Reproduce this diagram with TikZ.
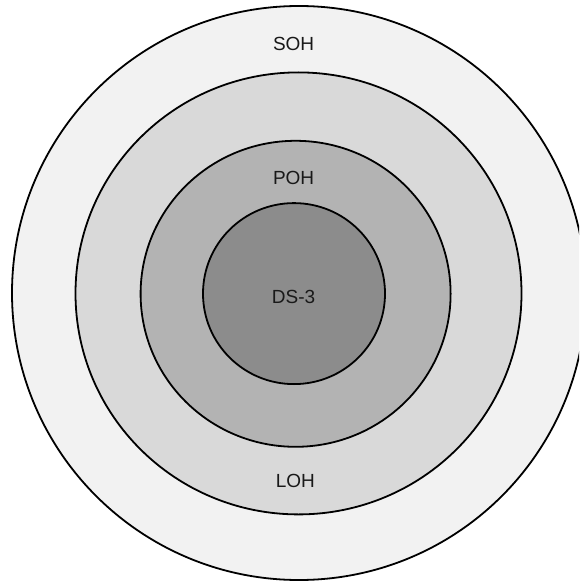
\documentclass[tikz,border=0pt]{standalone}
\usepackage{fontspec}
\setmainfont{Liberation Sans}
\usepackage{tikz}

\definecolor{sohgray}{HTML}{F2F2F2}
\definecolor{lohgray}{HTML}{D9D9D9}
\definecolor{pohgray}{HTML}{B3B3B3}
\definecolor{dsgray}{HTML}{8C8C8C}

\tikzset{
  ring/.style={draw=black, line width=1.8pt},
  layer/.style={font=\fontsize{19}{22}\selectfont, text=black!90}
}

\begin{document}
\begin{tikzpicture}[x=1pt,y=-1pt]
            \useasboundingbox (0,0) rectangle (579,583);
            \clip (0,0) rectangle (579,583);
            \fill[white] (0,0) rectangle (579,583);

            \draw[ring, fill=sohgray] (299,293) ellipse (287 and 287);
            \draw[ring, fill=lohgray] (298.5,293.4) ellipse (223 and 221);
            \draw[ring, fill=pohgray] (295.6,293.8) ellipse (155 and 153);
            \draw[ring, fill=dsgray] (294,293.6) ellipse (91 and 90.5);

            \node[layer] (soh) at (293.6,44.3) {SOH};
            \node[layer] (poh) at (293.6,178) {POH};
            \node[layer] (ds3) at (293.6,296.5) {DS-3};
            \node[layer] (loh) at (295.4,481) {LOH};
        \end{tikzpicture}
\end{document}
